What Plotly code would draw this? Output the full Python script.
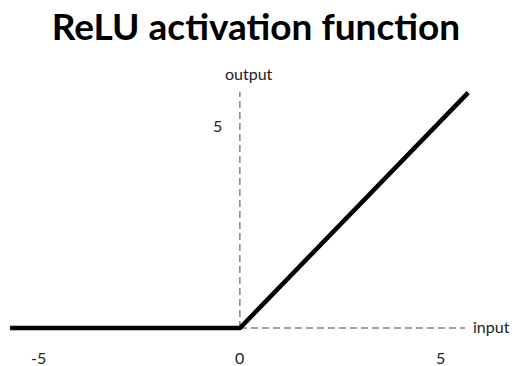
import plotly.graph_objects as go

# data
x_vals = [-5.72, 0, 5.68]
y_vals = [0, 0, 5.8]
x_ticks = [-5, 0, 5]
x_tick_labels = ["-5", "0", "5"]
y_ticks = [5]
y_tick_labels = ["5"]
x_axis_end = 5.6
y_axis_end = 5.82

fig = go.Figure()
fig.add_trace(go.Scatter(x=x_vals, y=y_vals, mode="lines",
                         line=dict(color="black", width=4.5), hoverinfo="skip"))

# dashed axes
fig.add_shape(type="line", x0=0, y0=0, x1=x_axis_end, y1=0,
              line=dict(color="#444", width=1, dash="7px,4px"), layer="below")
fig.add_shape(type="line", x0=0, y0=0, x1=0, y1=y_axis_end,
              line=dict(color="#444", width=1, dash="7px,4px"), layer="below")

font = dict(family="Lato, Open Sans, sans-serif", size=16, color="#222")
for xv, lab in zip(x_ticks, x_tick_labels):
    fig.add_annotation(x=xv, y=-0.72, text=lab, showarrow=False, font=font,
                       xanchor="center", yanchor="middle")
for yv, lab in zip(y_ticks, y_tick_labels):
    fig.add_annotation(x=-0.57, y=yv, text=lab, showarrow=False, font=font,
                       xanchor="center", yanchor="middle")
fig.add_annotation(x=0.22, y=y_axis_end + 0.45, text="output", showarrow=False,
                   font=font, xanchor="center", yanchor="middle")
fig.add_annotation(x=x_axis_end + 0.15, y=0.03, text="input", showarrow=False,
                   font=font, xanchor="left", yanchor="middle")

fig.update_layout(
    width=512, height=366,
    margin=dict(l=0, r=0, t=0, b=0),
    paper_bgcolor="white", plot_bgcolor="white",
    showlegend=False,
    title=dict(text="<b>ReLU activation function</b>", x=0.5, xanchor="center",
               y=0.925, yanchor="middle",
               font=dict(family="Lato, Open Sans, sans-serif", size=37, color="black")),
    xaxis=dict(range=[-5.97, 6.77], visible=False, fixedrange=True),
    yaxis=dict(range=[-0.936, 8.08], visible=False, fixedrange=True),
)

fig.write_html("out.html", config={"displayModeBar": False},
               post_script="document.body.style.margin='0';document.body.style.overflow='hidden';")
